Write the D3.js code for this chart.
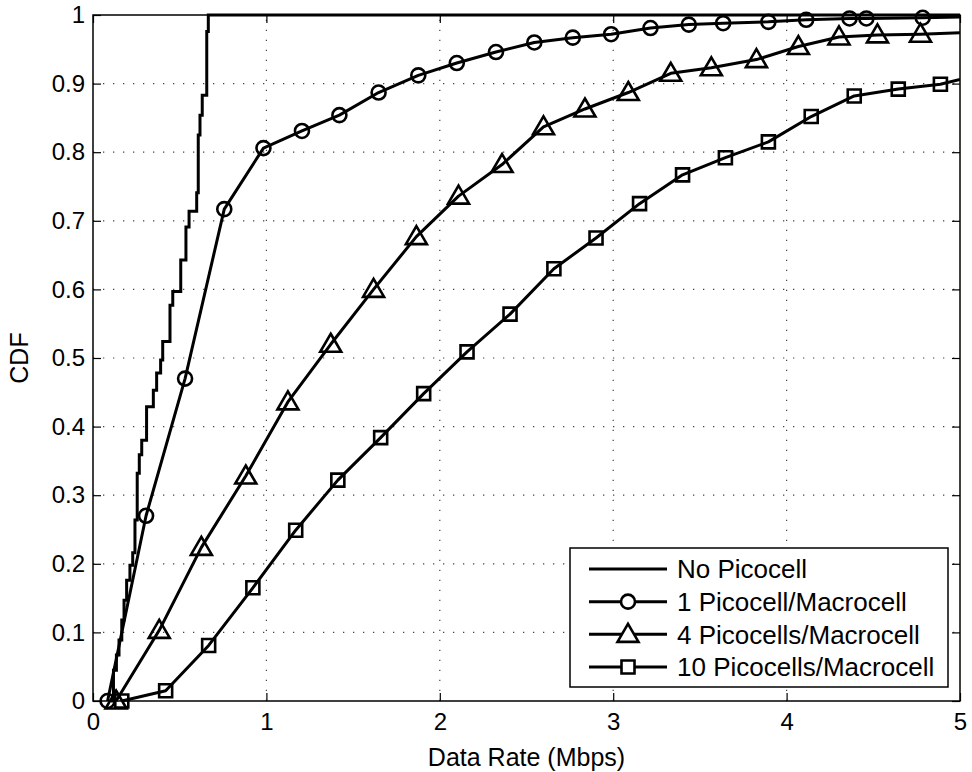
<!DOCTYPE html>
<html>
<head>
<meta charset="utf-8">
<script src="https://cdn.jsdelivr.net/npm/d3@7/dist/d3.min.js"></script>
<style>
  html, body { margin: 0; padding: 0; background: #fff; }
  svg text { font-family: "Liberation Sans", Arial, Helvetica, sans-serif; fill: #000; }
</style>
</head>
<body>
<svg id="chart" width="972" height="772"></svg>
<script>
// Empirical CDF of user data rate, no picocells (step points: rate, cumulative prob)
const noPicoRate = [0.104, 0.118, 0.135, 0.150, 0.166, 0.179, 0.194, 0.213, 0.229, 0.242, 0.255, 0.267, 0.281, 0.309, 0.348, 0.367, 0.390, 0.402, 0.444, 0.460, 0.506, 0.536, 0.554, 0.598, 0.607, 0.617, 0.630, 0.656, 0.665, 5.0];
const noPicoCdf  = [0.000, 0.045, 0.067, 0.089, 0.118, 0.147, 0.176, 0.198, 0.216, 0.264, 0.332, 0.359, 0.380, 0.429, 0.453, 0.478, 0.497, 0.524, 0.577, 0.597, 0.643, 0.691, 0.714, 0.741, 0.825, 0.854, 0.883, 0.976, 1.000, 1.000];

// 1 picocell per macrocell
const onePicoRate = [0.084, 0.306, 0.531, 0.757, 0.983, 1.205, 1.421, 1.647, 1.876, 2.098, 2.324, 2.545, 2.767, 2.988, 3.215, 3.436, 3.634, 3.895, 4.113, 4.363, 4.460, 4.785];
const onePicoCdf  = [0.000, 0.270, 0.470, 0.717, 0.806, 0.831, 0.854, 0.887, 0.912, 0.930, 0.946, 0.960, 0.967, 0.972, 0.981, 0.986, 0.988, 0.990, 0.993, 0.995, 0.995, 0.996];
const onePicoTail = [5.0, 0.997];

// 4 picocells per macrocell
const fourPicoRate = [0.133, 0.382, 0.625, 0.881, 1.124, 1.371, 1.618, 1.865, 2.108, 2.359, 2.598, 2.837, 3.087, 3.332, 3.566, 3.826, 4.068, 4.302, 4.524, 4.772];
const fourPicoCdf  = [0.000, 0.103, 0.224, 0.328, 0.436, 0.520, 0.600, 0.677, 0.736, 0.782, 0.837, 0.863, 0.887, 0.915, 0.923, 0.935, 0.954, 0.968, 0.971, 0.972];
const fourPicoTail = [5.0, 0.974];

// 10 picocells per macrocell
const tenPicoRate = [0.166, 0.419, 0.667, 0.922, 1.169, 1.412, 1.659, 1.907, 2.157, 2.405, 2.658, 2.901, 3.152, 3.400, 3.647, 3.895, 4.142, 4.390, 4.644, 4.887];
const tenPicoCdf  = [0.000, 0.015, 0.081, 0.165, 0.249, 0.322, 0.384, 0.448, 0.509, 0.564, 0.630, 0.675, 0.725, 0.767, 0.792, 0.815, 0.852, 0.882, 0.892, 0.899];
const tenPicoTail = [5.0, 0.906];

const xTicks = [0, 1, 2, 3, 4, 5];
const yTicks = [0, 0.1, 0.2, 0.3, 0.4, 0.5, 0.6, 0.7, 0.8, 0.9, 1];
const yTickLabels = ["0", "0.1", "0.2", "0.3", "0.4", "0.5", "0.6", "0.7", "0.8", "0.9", "1"];

const seriesNames = ["No Picocell", "1 Picocell/Macrocell", "4 Picocells/Macrocell", "10 Picocells/Macrocell"];
const seriesMarkers = ["none", "circle", "triangle", "square"];

const svg = d3.select("#chart");
const margin = { left: 93, right: 12, top: 15, bottom: 71 };
const W = 972, H = 772;
const x = d3.scaleLinear().domain([0, 5]).range([margin.left, W - margin.right]);
const y = d3.scaleLinear().domain([0, 1]).range([H - margin.bottom, margin.top]);

const zip = (a, b) => a.map((v, i) => [v, b[i]]);

// clip path for plot area
svg.append("defs").append("clipPath").attr("id", "plotClip")
  .append("rect")
  .attr("x", x(0)).attr("y", y(1) - 2)
  .attr("width", x(5) - x(0)).attr("height", y(0) - y(1) + 4);

// dotted grid
const grid = svg.append("g").attr("stroke", "#444").attr("stroke-width", 1.2)
  .attr("stroke-dasharray", "1.3,8.7");
grid.selectAll("line.gx").data(xTicks.slice(1, -1)).join("line")
  .attr("x1", d => x(d)).attr("x2", d => x(d))
  .attr("y1", y(0)).attr("y2", y(1));
grid.selectAll("line.gy").data(yTicks.slice(1, -1)).join("line")
  .attr("y1", d => y(d)).attr("y2", d => y(d))
  .attr("x1", x(0)).attr("x2", x(5));

// axes with inward ticks on all four sides
const tickLen = 8;
const fontSize = 24;
const axB = svg.append("g").attr("transform", `translate(0,${y(0)})`)
  .call(d3.axisBottom(x).tickValues(xTicks).tickSize(-tickLen).tickPadding(12).tickFormat(d3.format("d")));
const axT = svg.append("g").attr("transform", `translate(0,${y(1)})`)
  .call(d3.axisTop(x).tickValues(xTicks).tickSize(-tickLen).tickFormat(""));
const axL = svg.append("g").attr("transform", `translate(${x(0)},0)`)
  .call(d3.axisLeft(y).tickValues(yTicks).tickSize(-tickLen).tickPadding(8).tickFormat((d, i) => yTickLabels[i]));
const axR = svg.append("g").attr("transform", `translate(${x(5)},0)`)
  .call(d3.axisRight(y).tickValues(yTicks).tickSize(-tickLen).tickFormat(""));
[axB, axT, axL, axR].forEach(a => {
  a.select(".domain").remove();
  a.selectAll(".tick line").attr("stroke", "#000").attr("stroke-width", 1.2);
  a.selectAll(".tick text").attr("font-size", fontSize).attr("font-family", "Liberation Sans, Arial, sans-serif");
});

// series lines and markers
const plot = svg.append("g").attr("clip-path", "url(#plotClip)");
const lineGen = d3.line().x(d => x(d[0])).y(d => y(d[1]));

plot.append("path")
  .datum(zip(noPicoRate, noPicoCdf))
  .attr("fill", "none").attr("stroke", "#000").attr("stroke-width", 3)
  .attr("d", lineGen.curve(d3.curveStepAfter));

const markerSeries = [
  { pts: zip(onePicoRate, onePicoCdf), tail: onePicoTail, marker: "circle" },
  { pts: zip(fourPicoRate, fourPicoCdf), tail: fourPicoTail, marker: "triangle" },
  { pts: zip(tenPicoRate, tenPicoCdf), tail: tenPicoTail, marker: "square" }
];

const symbolPath = {
  circle: d3.symbol().type(d3.symbolCircle).size(Math.PI * 7 * 7)(),
  triangle: "M0,-10.5L10.5,7.5L-10.5,7.5Z",
  square: "M-6.5,-6.5H6.5V6.5H-6.5Z"
};

markerSeries.forEach(s => {
  plot.append("path")
    .datum(s.pts.concat([s.tail]))
    .attr("fill", "none").attr("stroke", "#000").attr("stroke-width", 3)
    .attr("stroke-linejoin", "round")
    .attr("d", d3.line().x(d => x(d[0])).y(d => y(d[1]))(s.pts.concat([s.tail])));
});
markerSeries.forEach(s => {
  svg.append("g").selectAll("path").data(s.pts).join("path")
    .attr("transform", d => `translate(${x(d[0])},${y(d[1])})`)
    .attr("d", symbolPath[s.marker])
    .attr("fill", "none").attr("stroke", "#000").attr("stroke-width", 2.6);
});

// axes box
svg.append("rect")
  .attr("x", x(0)).attr("y", y(1))
  .attr("width", x(5) - x(0)).attr("height", y(0) - y(1))
  .attr("fill", "none").attr("stroke", "#000").attr("stroke-width", 1.5);

// axis labels
svg.append("text")
  .attr("x", (x(0) + x(5)) / 2).attr("y", 766)
  .attr("text-anchor", "middle").attr("font-size", 25)
  .text("Data Rate (Mbps)");
svg.append("text")
  .attr("transform", `translate(28,${(y(0) + y(1)) / 2}) rotate(-90)`)
  .attr("text-anchor", "middle").attr("font-size", 25)
  .text("CDF");

// legend
const lg = { x: 570, y: 548, w: 378, h: 139 };
const legend = svg.append("g");
legend.append("rect")
  .attr("x", lg.x).attr("y", lg.y).attr("width", lg.w).attr("height", lg.h)
  .attr("fill", "#fff").attr("stroke", "#000").attr("stroke-width", 1.5);
const rowY = d3.scalePoint().domain(seriesNames).range([lg.y + 21, lg.y + 119]);
seriesNames.forEach((name, i) => {
  const ry = rowY(name);
  legend.append("line")
    .attr("x1", lg.x + 19).attr("x2", lg.x + 97)
    .attr("y1", ry).attr("y2", ry)
    .attr("stroke", "#000").attr("stroke-width", 3);
  if (seriesMarkers[i] !== "none") {
    legend.append("path")
      .attr("transform", `translate(${lg.x + 58},${ry})`)
      .attr("d", symbolPath[seriesMarkers[i]])
      .attr("fill", "#fff").attr("stroke", "#000").attr("stroke-width", 2.6);
  }
  legend.append("text")
    .attr("x", lg.x + 107).attr("y", ry).attr("dy", "0.36em")
    .attr("font-size", 26)
    .text(name);
});
</script>
</body>
</html>
